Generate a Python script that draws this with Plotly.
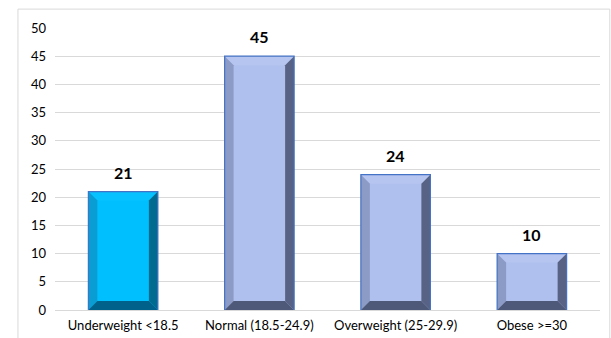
import plotly.graph_objects as go

# BMI categories and counts
categories = ["Underweight <18.5", "Normal (18.5-24.9)", "Overweight (25-29.9)", "Obese >=30"]
counts = [21, 45, 24, 10]
y_ticks = [0, 5, 10, 15, 20, 25, 30, 35, 40, 45, 50]

# bevelled-bar styling: (face, top, left, right, bottom) per bar
palette_first = ("#00BFFF", "#06C2FF", "#0A9DD4", "#006A8F", "#00628A")
palette_rest = ("#B0C0EE", "#B6C5F0", "#8C9AC6", "#586284", "#4E5878")
edge_color = "#4472C4"
half_w = 0.255      # half bar width (category units)
bev_x = 0.066       # bevel width (category units)
bev_y = 1.6         # bevel height (value units)

xs = list(range(len(categories)))
fig = go.Figure()

# face of each bar
faces = [palette_first[0]] + [palette_rest[0]] * (len(counts) - 1)
fig.add_trace(go.Bar(x=xs, y=counts, width=2 * half_w, marker=dict(color=faces, line=dict(width=0)),
                     hoverinfo="skip", showlegend=False))

def poly(px, py, color):
    fig.add_trace(go.Scatter(x=px + [px[0]], y=py + [py[0]], mode="lines", fill="toself",
                             fillcolor=color, line=dict(width=0, color=color),
                             hoverinfo="skip", showlegend=False))

for i, v in zip(xs, counts):
    face, top, left, right, bottom = palette_first if i == 0 else palette_rest
    x0, x1 = i - half_w, i + half_w
    # top bevel
    poly([x0, x1, x1 - bev_x, x0 + bev_x], [v, v, v - bev_y, v - bev_y], top)
    # left bevel
    poly([x0, x0, x0 + bev_x, x0 + bev_x], [0, v, v - bev_y, bev_y], left)
    # right bevel
    poly([x1, x1, x1 - bev_x, x1 - bev_x], [0, v, v - bev_y, bev_y], right)
    # bottom bevel
    poly([x0, x1, x1 - bev_x, x0 + bev_x], [0, 0, bev_y, bev_y], bottom)
    # outline
    fig.add_trace(go.Scatter(x=[x0, x0, x1, x1], y=[0, v, v, 0], mode="lines",
                             line=dict(color=edge_color, width=1.2),
                             hoverinfo="skip", showlegend=False))
    # value label
    fig.add_annotation(x=i, y=v, text=f"<b>{v}</b>", showarrow=False, yanchor="bottom",
                       yshift=8, font=dict(size=16, color="#000000"))

# chart-area border
fig.add_shape(type="rect", xref="paper", yref="paper", x0=-0.068, x1=1.018, y0=-0.2, y1=1.067,
              line=dict(color="#D9D9D9", width=1), fillcolor="rgba(0,0,0,0)", layer="below")

font_family = "Lato, Noto Sans, sans-serif"
fig.update_layout(
    width=611, height=338,
    margin=dict(l=55, r=11, t=28, b=28, autoexpand=False),
    paper_bgcolor="white", plot_bgcolor="white",
    font=dict(family=font_family, size=12, color="#000000"),
    bargap=0.49,
    xaxis=dict(range=[-0.5, len(categories) - 0.5], tickmode="array", tickvals=xs,
               ticktext=categories, showgrid=False, zeroline=False, showline=True, automargin=False,
               linecolor="#D9D9D9", linewidth=1, ticks="", ticklabelstandoff=3,
               tickfont=dict(size=13, family=font_family)),
    yaxis=dict(range=[0, 50], tickmode="array", tickvals=y_ticks, showgrid=True, automargin=False,
               gridcolor="#D9D9D9", gridwidth=1, zeroline=False, showline=False, ticks="",
               ticklabelstandoff=8, tickfont=dict(size=13, family=font_family)),
)

fig.write_html("out.html")
